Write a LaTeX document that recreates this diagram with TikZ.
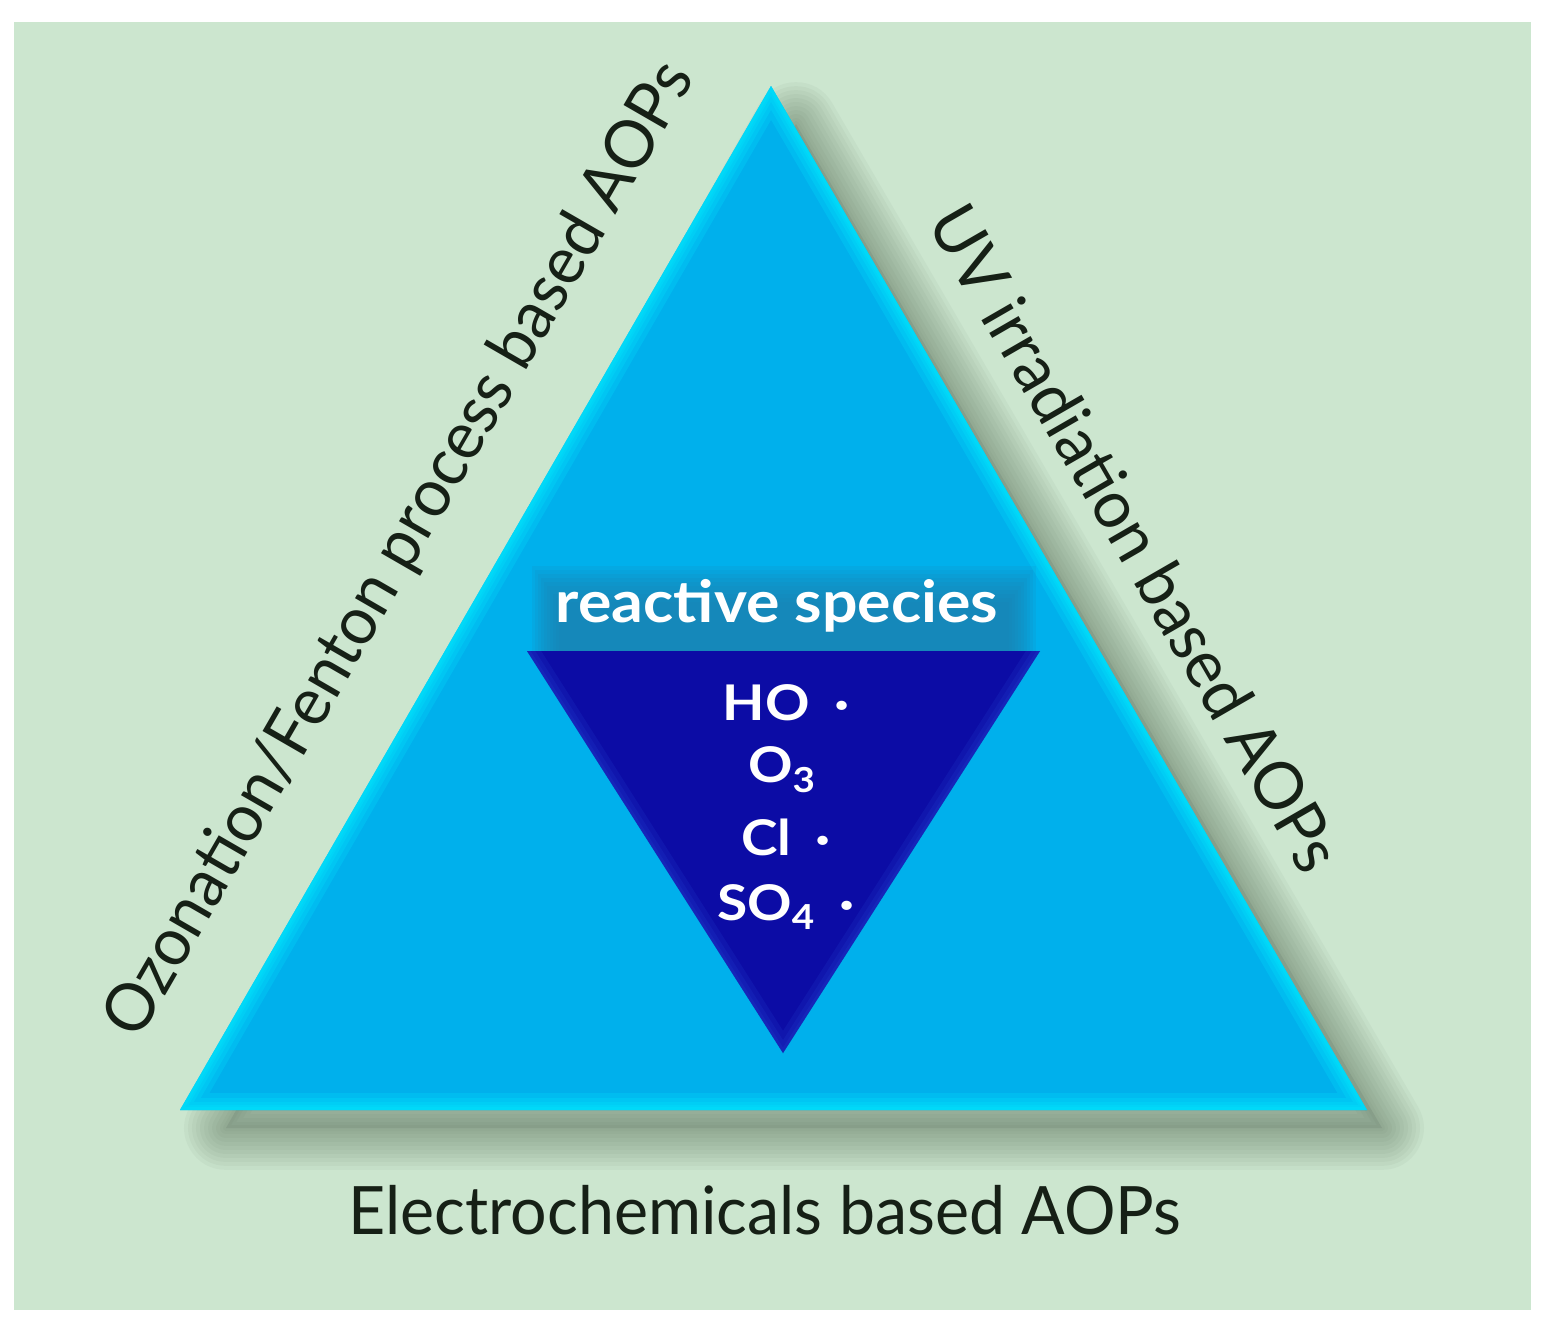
\documentclass[tikz,border=0pt]{standalone}
\usepackage{fontspec}
\setmainfont{Lato}
\definecolor{bggreen}{RGB}{204,230,207}
\definecolor{trimain}{RGB}{0,176,236}
\definecolor{triedge}{RGB}{0,235,255}
\definecolor{bandc}{RGB}{33,127,173}
\definecolor{innerc}{RGB}{12,12,165}
\definecolor{inneredge}{RGB}{40,80,220}
\definecolor{shadowc}{RGB}{80,100,80}
\definecolor{textc}{RGB}{22,32,22}
\tikzset{
  outertext/.style={text=textc, inner sep=0pt, font=\fontsize{38}{44}\selectfont\addfontfeature{FakeStretch=0.965}},
  innertext/.style={text=white, inner sep=0pt, font=\bfseries\fontsize{28}{32}\selectfont\addfontfeature{FakeStretch=1.12}},
  bandtext/.style={text=white, inner sep=0pt, font=\bfseries\fontsize{33}{36}\selectfont\addfontfeature{FakeStretch=1.08}},
}
\begin{document}
\begin{tikzpicture}[x=0.02cm,y=-0.02cm]
\useasboundingbox (0,0) rectangle (1548,1326);
\fill[white] (0,0) rectangle (1548,1326);
\fill[bggreen] (14,22) rectangle (1531,1310);
\coordinate (A) at (771,86);
\coordinate (L) at (180,1110);
\coordinate (R) at (1367,1110);
% soft shadow (triangle shifted down-right, blurred by layered strokes)
\coordinate (SA) at (796,124);
\coordinate (SL) at (226,1128);
\coordinate (SR) at (1382,1128);
\fill[shadowc, opacity=0.14] (SA) -- (SL) -- (SR) -- cycle;
\foreach \w in {84,76,68,60,52,44,36,28,20,12,6}{
  \pgfmathsetmacro\lw{0.567*\w}
  \draw[shadowc, opacity=0.05, line width=\lw pt, line join=round] (SA) -- (SL) -- (SR) -- cycle;
}
% main triangle
\fill[trimain] (A) -- (L) -- (R) -- cycle;
\begin{scope}
  \clip (A) -- (L) -- (R) -- cycle;
  \foreach \w in {34,24,16,10,6}{
    \pgfmathsetmacro\lw{0.567*\w}
    \draw[triedge, opacity=0.22, line width=\lw pt] (A) -- (L) -- (R) -- cycle;
  }
\end{scope}
% band behind "reactive species"
\foreach \i in {0,...,9}{
  \fill[bandc, opacity=0.13] ({532+3*\i},{566+4*\i}) rectangle ({1036-3*\i},651);
}
% inner triangle
\coordinate (IL) at (527,651);
\coordinate (IR) at (1040,651);
\coordinate (IB) at (783,1053);
\fill[innerc] (IL) -- (IR) -- (IB) -- cycle;
\begin{scope}
  \clip (IL) -- (IR) -- (IB) -- cycle;
  \foreach \w in {24,14,6}{
    \pgfmathsetmacro\lw{0.567*\w}
    \draw[inneredge, opacity=0.15, line width=\lw pt] (IR) -- (IB) -- (IL);
  }
\end{scope}
% texts
\node[bandtext, anchor=base] (rs) at (777,622) {reactive species};
\node[innertext, anchor=base] (ho) at (786,720) {HO\hspace{0.5em}\textperiodcentered};
\node[innertext, anchor=base] (o3) at (782,782) {O\textsubscript{3}};
\node[innertext, anchor=base] (cl) at (786,855) {Cl\hspace{0.5em}\textperiodcentered};
\node[innertext, anchor=base] (so4) at (786,920) {SO\textsubscript{4}\hspace{0.5em}\textperiodcentered};
\node[outertext, rotate=60] (left) at (401,550) {Ozonation/Fenton process based AOPs};
\node[outertext, rotate=-60] (right) at (1136,538) {UV irradiation based AOPs};
\node[outertext, anchor=base] (bottom) at (765,1234) {Electrochemicals based AOPs};
\end{tikzpicture}
\end{document}
